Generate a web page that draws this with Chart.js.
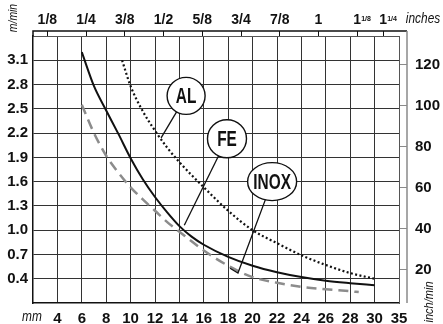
<!DOCTYPE html>
<html>
<head>
<meta charset="utf-8">
<script src="https://cdn.jsdelivr.net/npm/chart.js@4/dist/chart.umd.min.js"></script>
<style>
  html, body { margin: 0; padding: 0; background: #fff; }
  canvas { display: block; }
</style>
</head>
<body>
<canvas id="speedChart" width="443" height="324"></canvas>
<script>
// ── Axis ticks ──
const mmTicks = [4, 6, 8, 10, 12, 14, 16, 18, 20, 22, 24, 26, 28, 30, 35];
const inchTicks = [1/8, 1/4, 3/8, 1/2, 5/8, 3/4, 7/8, 1, 1.125, 1.25];
const inchLabels = ['1/8', '1/4', '3/8', '1/2', '5/8', '3/4', '7/8', '1', '1', '1'];
const inchSup = ['', '', '', '', '', '', '', '', '1/8', '1/4'];
const speedTicks = [0.4, 0.7, 1.0, 1.3, 1.6, 1.9, 2.2, 2.5, 2.8, 3.1];
const inchMinTicks = [20, 40, 60, 80, 100, 120];

// ── Curves: thickness (mm) -> speed (m/min) ──
const feMm    = [6, 7, 8, 9, 10, 11, 12, 13, 14, 15, 16, 18, 20, 22, 24, 26, 28, 30];
const feSpeed = [3.2, 2.78, 2.48, 2.19, 1.89, 1.63, 1.41, 1.22, 1.05, 0.92, 0.82, 0.67, 0.56, 0.48, 0.42, 0.375, 0.345, 0.32];

const alMm    = [9.3, 10, 11, 12, 13, 14, 16, 18, 20, 22, 24, 26, 28, 30];
const alSpeed = [3.1, 2.78, 2.47, 2.23, 2.02, 1.84, 1.53, 1.24, 1.0, 0.84, 0.69, 0.57, 0.47, 0.40];

const inoxMm    = [6, 7, 8, 9, 10, 11, 12, 13, 14, 16, 18, 20, 22, 24, 26, 28, 28.7];
const inoxSpeed = [2.55, 2.2, 1.92, 1.71, 1.53, 1.38, 1.24, 1.1, 0.98, 0.75, 0.56, 0.42, 0.35, 0.30, 0.27, 0.245, 0.235];

const MM_PER_INCH = 25.4;
const SANS = '"Liberation Sans", Arial, sans-serif';

// past 30 mm the scale is squeezed: 30..35 takes one grid step
function mmPos(mm) {
    return mm <= 30 ? mm : 30 + (mm - 30) * 0.4;
}

function toPoints(xs, ys) {
    return xs.map((x, i) => ({ x: mmPos(x), y: ys[i] }));
}

// condensed text: plain font squeezed horizontally
function narrowText(ctx, text, x, y, font, squeeze, angle = 0) {
    ctx.save();
    ctx.translate(x, y);
    ctx.rotate(angle);
    ctx.scale(squeeze, 1);
    ctx.font = font;
    ctx.textAlign = 'center';
    ctx.textBaseline = 'middle';
    ctx.fillText(text, 0, 0);
    ctx.restore();
}

// ── Bubbles with leader lines (data coords) ──
const bubbles = [
    { text: 'AL',   cx: 14.55, cy: 2.66, rx: 19, ry: 18.5, path: [[12.5, 2.14]] },
    { text: 'FE',   cx: 17.9,  cy: 2.13, rx: 19.5, ry: 19, path: [[14.4, 1.06]] },
    { text: 'INOX', cx: 21.6,  cy: 1.60, rx: 24.5, ry: 19, path: [[18.8, 0.47], [18.15, 0.53]] },
];

const extras = {
    id: 'extras',
    afterDraw(chart) {
        const { ctx, chartArea: a, scales } = chart;
        const xs = scales.x, ys = scales.y, top = scales.x2;
        ctx.save();

        // outer frame
        ctx.lineWidth = 1.5;
        ctx.strokeStyle = '#111';
        ctx.beginPath();
        ctx.moveTo(a.left, a.top);
        ctx.lineTo(a.left, a.top - 5);
        ctx.lineTo(a.right + 8, a.top - 5);
        ctx.stroke();
        ctx.strokeStyle = '#8a8a8a';
        ctx.beginPath();
        ctx.moveTo(a.right + 8, a.top - 5);
        ctx.lineTo(a.right + 8, a.bottom);
        ctx.stroke();

        // superscript fractions on 1 1/8 and 1 1/4
        ctx.fillStyle = '#111';
        ctx.font = 'bold 7px ' + SANS;
        ctx.textAlign = 'left';
        ctx.textBaseline = 'alphabetic';
        inchTicks.forEach((v, i) => {
            if (!inchSup[i]) return;
            const px = top.getPixelForValue(mmPos(v * MM_PER_INCH));
            ctx.fillText(inchSup[i], px + 4, 21);
        });

        // unit captions
        narrowText(ctx, 'inches', 423, 19, 'italic 14px ' + SANS, 0.85);
        narrowText(ctx, 'mm', 32, 317, 'italic 14px ' + SANS, 0.85);
        narrowText(ctx, 'm/min', 13, 18, 'italic 13px ' + SANS, 0.8, -Math.PI / 2);
        narrowText(ctx, 'inch/min', 429, 302, 'italic 13px ' + SANS, 0.85, -Math.PI / 2);

        // bubbles
        bubbles.forEach(b => {
            const cx = xs.getPixelForValue(b.cx);
            const cy = ys.getPixelForValue(b.cy);
            ctx.strokeStyle = '#111';
            ctx.lineWidth = 1.3;
            ctx.beginPath();
            ctx.moveTo(cx, cy);
            b.path.forEach(p => ctx.lineTo(xs.getPixelForValue(p[0]), ys.getPixelForValue(p[1])));
            ctx.stroke();

            ctx.beginPath();
            ctx.ellipse(cx, cy, b.rx, b.ry, 0, 0, Math.PI * 2);
            ctx.fillStyle = '#fff';
            ctx.fill();
            ctx.lineWidth = 1.4;
            ctx.stroke();

            ctx.fillStyle = '#111';
            narrowText(ctx, b.text, cx, cy + 1, 'bold 22px ' + SANS, 0.7);
        });

        ctx.restore();
    }
};

Chart.defaults.font = { family: SANS, size: 15, weight: 'bold' };
Chart.defaults.color = '#111';

const gridColor = '#333';

new Chart(document.getElementById('speedChart'), {
    type: 'line',
    data: {
        datasets: [
            {
                label: 'AL',
                data: toPoints(alMm, alSpeed),
                borderColor: '#111',
                borderWidth: 2.2,
                borderDash: [2, 2.4],
                pointRadius: 0,
                cubicInterpolationMode: 'monotone',
            },
            {
                label: 'INOX',
                data: toPoints(inoxMm, inoxSpeed),
                borderColor: '#8c8c8c',
                borderWidth: 2.5,
                borderDash: [10, 6],
                pointRadius: 0,
                cubicInterpolationMode: 'monotone',
            },
            {
                label: 'FE',
                data: toPoints(feMm, feSpeed),
                borderColor: '#111',
                borderWidth: 2,
                pointRadius: 0,
                cubicInterpolationMode: 'monotone',
            },
        ]
    },
    options: {
        responsive: false,
        animation: false,
        devicePixelRatio: 1,
        layout: { padding: 0 },
        plugins: { legend: { display: false }, tooltip: { enabled: false } },
        scales: {
            x: {
                type: 'linear', position: 'bottom', min: 2, max: 32,
                afterBuildTicks: s => { s.ticks = mmTicks.map(v => ({ value: mmPos(v) })); },
                afterFit: s => { s.height = 21; },
                grid: { color: gridColor, lineWidth: 1, drawTicks: false },
                border: { color: '#111', width: 1.5 },
                ticks: { padding: 7, autoSkip: false, maxRotation: 0, callback: (v, i) => mmTicks[i] },
            },
            x2: {
                type: 'linear', position: 'top', min: 2, max: 32,
                afterBuildTicks: s => { s.ticks = inchTicks.map(v => ({ value: mmPos(v * MM_PER_INCH) })); },
                afterFit: s => { s.height = 36; },
                grid: { drawOnChartArea: false, drawTicks: true, tickLength: 5, color: '#111', lineWidth: 1 },
                border: { color: '#555', width: 1, dash: [3, 2] },
                ticks: { padding: 2, autoSkip: false, maxRotation: 0, font: { size: 14 }, callback: (v, i) => inchLabels[i] },
            },
            y: {
                type: 'linear', position: 'left', min: 0.1, max: 3.4,
                afterBuildTicks: s => { s.ticks = speedTicks.map(v => ({ value: v })); },
                afterFit: s => { s.width = 33; },
                grid: { color: gridColor, lineWidth: 1, drawTicks: false },
                border: { color: '#111', width: 1.5 },
                ticks: { padding: 5, callback: v => v.toFixed(1) },
            },
            y2: {
                type: 'linear', position: 'right', min: 0.1, max: 3.4,
                afterBuildTicks: s => { s.ticks = inchMinTicks.map(v => ({ value: v * MM_PER_INCH / 1000 })); },
                afterFit: s => { s.width = 44; },
                grid: { drawOnChartArea: false, drawTicks: true, tickLength: 8, color: '#8a8a8a', lineWidth: 1 },
                border: { color: '#555', width: 1, dash: [3, 2] },
                ticks: { padding: 8, callback: (v, i) => inchMinTicks[i] },
            },
        }
    },
    plugins: [extras]
});
</script>
</body>
</html>
